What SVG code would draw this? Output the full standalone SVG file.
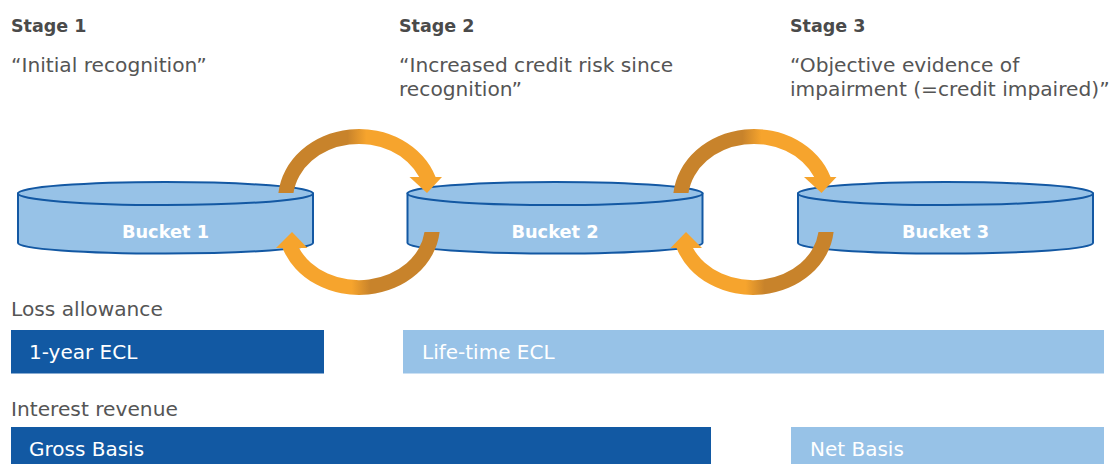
<svg xmlns="http://www.w3.org/2000/svg" width="1110" height="464" viewBox="0 0 1110 464">
<defs>
<style>
.h{font-family:"DejaVu Sans","Liberation Sans",sans-serif;font-weight:bold;font-size:17.5px;fill:#4a4a4a}
.t{font-family:"DejaVu Sans","Liberation Sans",sans-serif;font-size:20.2px;fill:#555555}
.bt{font-family:"DejaVu Sans","Liberation Sans",sans-serif;font-weight:bold;font-size:17.8px;fill:#ffffff;text-anchor:middle}
.wt{font-family:"DejaVu Sans","Liberation Sans",sans-serif;font-size:20px;fill:#ffffff}
.bk{fill:#97c2e7;stroke:#1358a3;stroke-width:2}
.dk{fill:#1259a3}
.lt{fill:#97c2e7}
.lh{fill:#f6a42d}
</style>
<linearGradient id="gUp" x1="0" y1="0" x2="1" y2="0">
<stop offset="0" stop-color="#c8832b"/><stop offset="0.44" stop-color="#c8832b"/><stop offset="0.56" stop-color="#f6a42d"/><stop offset="1" stop-color="#f6a42d"/>
</linearGradient>
<linearGradient id="gDn" x1="0" y1="0" x2="1" y2="0">
<stop offset="0" stop-color="#f6a42d"/><stop offset="0.44" stop-color="#f6a42d"/><stop offset="0.56" stop-color="#c8832b"/><stop offset="1" stop-color="#c8832b"/>
</linearGradient>
</defs>
<rect width="1110" height="464" fill="#ffffff"/>

<g id="stage1">
<text class="h" x="11" y="32">Stage 1</text>
<text class="t" x="11" y="72">“Initial recognition”</text>
</g>
<g id="stage2">
<text class="h" x="399" y="32">Stage 2</text>
<text class="t" x="399" y="72">“Increased credit risk since</text>
<text class="t" x="399" y="96">recognition”</text>
</g>
<g id="stage3">
<text class="h" x="790" y="32">Stage 3</text>
<text class="t" x="790" y="72">“Objective evidence of</text>
<text class="t" x="790" y="96">impairment (=credit impaired)”</text>
</g>

<g id="bucket1">
<path class="bk" d="M18,193.5 L18,243 A147.5,10.5 0 0 0 313,243 L313,193.5 Z"/>
<ellipse class="bk" cx="165.5" cy="193.5" rx="147.5" ry="11.5"/>
<text class="bt" x="165.5" y="238">Bucket 1</text>
</g>
<g id="bucket2">
<path class="bk" d="M407.5,193.5 L407.5,243 A147.5,10.5 0 0 0 702.5,243 L702.5,193.5 Z"/>
<ellipse class="bk" cx="555" cy="193.5" rx="147.5" ry="11.5"/>
<text class="bt" x="555" y="238">Bucket 2</text>
</g>
<g id="bucket3">
<path class="bk" d="M798,193.5 L798,243 A147.5,10.5 0 0 0 1093,243 L1093,193.5 Z"/>
<ellipse class="bk" cx="945.5" cy="193.5" rx="147.5" ry="11.5"/>
<text class="bt" x="945.5" y="238">Bucket 3</text>
</g>

<g id="connectors">
<g id="b1-b2-up">
<path fill="url(#gUp)" d="M278.4,193 A81,71 0 0 1 435.6,177 L419.2,177 A66,56 0 0 0 293.5,193 Z"/>
<polygon class="lh" points="409.5,177 442,177 427,193"/>
</g>
<g id="b2-b1-down">
<path fill="url(#gDn)" d="M439.6,232 A81,70 0 0 1 282.5,248 L299,248 A66,55 0 0 0 424.5,232 Z"/>
<polygon class="lh" points="276,248 307.5,248 292,232"/>
</g>
<g id="b2-b3-up">
<path fill="url(#gUp)" d="M673.4,193 A81,71 0 0 1 830.6,177 L814.2,177 A66,56 0 0 0 688.5,193 Z"/>
<polygon class="lh" points="804,177 836.5,177 821.5,193"/>
</g>
<g id="b3-b2-down">
<path fill="url(#gDn)" d="M833.6,232 A81,70 0 0 1 676.5,248 L693,248 A66,55 0 0 0 818.5,232 Z"/>
<polygon class="lh" points="670.5,248 702,248 686,232"/>
</g>
</g>

<g id="loss">
<text class="t" x="11" y="316">Loss allowance</text>
<rect class="dk" x="11" y="330" width="313" height="43.5"/>
<text class="wt" x="29" y="359">1-year ECL</text>
<rect class="lt" x="403" y="330" width="701" height="43.5"/>
<text class="wt" x="422" y="359">Life-time ECL</text>
</g>
<g id="interest">
<text class="t" x="11" y="416">Interest revenue</text>
<rect class="dk" x="11" y="427" width="700" height="37"/>
<text class="wt" x="29" y="456">Gross Basis</text>
<rect class="lt" x="791" y="427" width="313" height="37"/>
<text class="wt" x="810" y="456">Net Basis</text>
</g>
</svg>
